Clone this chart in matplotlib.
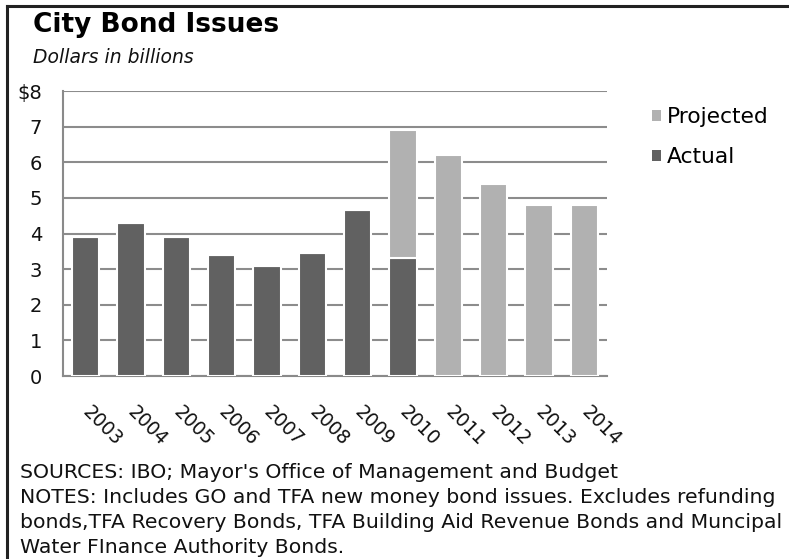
import matplotlib
matplotlib.use("Agg")
import matplotlib.pyplot as plt
from matplotlib.patches import Patch
from matplotlib.lines import Line2D
import numpy as np

years = ["2003", "2004", "2005", "2006", "2007", "2008", "2009", "2010", "2011", "2012", "2013", "2014"]
actual = [3.9, 4.3, 3.9, 3.4, 3.1, 3.45, 4.65, 3.3, 0, 0, 0, 0]
projected = [0, 0, 0, 0, 0, 0, 0, 3.6, 6.2, 5.4, 4.8, 4.8]
yticks = [0, 1, 2, 3, 4, 5, 6, 7, 8]
ytick_labels = ["0", "1", "2", "3", "4", "5", "6", "7", "$8"]

title = "City Bond Issues"
subtitle = "Dollars in billions"
notes = ["SOURCES: IBO; Mayor's Office of Management and Budget",
         "NOTES: Includes GO and TFA new money bond issues. Excludes refunding",
         "bonds,TFA Recovery Bonds, TFA Building Aid Revenue Bonds and Muncipal",
         "Water FInance Authority Bonds."]

W, H = 789, 559
plt.rcParams['font.family'] = ['DejaVu Sans']
fig = plt.figure(figsize=(W / 100, H / 100), dpi=100)
fig.patch.set_facecolor("white")

def fx(px):
    return px / W

def fy(py):
    return 1 - py / H

ax = fig.add_axes([fx(63), fy(376), fx(607) - fx(63), fy(91) - fy(376)])

dark = "#616161"
light = "#b1b1b1"
x = np.arange(len(years))
ax.bar(x, actual, width=0.6, color=dark, edgecolor="white", linewidth=1.5, zorder=3)
ax.bar(x, projected, width=0.6, bottom=actual, color=light, edgecolor="white", linewidth=1.5, zorder=3)

ax.set_xlim(-0.5, len(years) - 0.5)
ax.set_ylim(0, 8)
ax.set_yticks(yticks)
ax.set_yticklabels(ytick_labels, fontsize=14, color="#111111")
ax.tick_params(axis="y", length=0, pad=15)
for lab in ax.get_yticklabels():
    lab.set_horizontalalignment("right")

ax.set_xticks(x)
ax.set_xticklabels(years, fontsize=13.5, color="#111111", rotation=-45,
                   ha="left", va="center", rotation_mode="anchor")
ax.tick_params(axis="x", length=0, pad=24)

ax.yaxis.grid(True, color="#8c8c8c", linewidth=1.5, zorder=0)
ax.set_axisbelow(True)
for side in ["right", "top"]:
    ax.spines[side].set_visible(False)
for side in ["left", "bottom"]:
    ax.spines[side].set_color("#8a8a8a")
    ax.spines[side].set_linewidth(1.5)

handles = [Patch(facecolor=light, edgecolor="none", label="Projected"),
           Patch(facecolor=dark, edgecolor="none", label="Actual")]
ax.legend(handles=handles, loc="upper left", bbox_to_anchor=(fx(652), fy(107)),
          bbox_transform=fig.transFigure, frameon=False, fontsize=15.7,
          handlelength=0.4, handleheight=0.4, handletextpad=0.3, labelspacing=0.92,
          borderaxespad=0, borderpad=0)

fig.text(fx(33), fy(32), title, fontsize=19, fontweight="bold", ha="left", va="baseline", color="black")
fig.text(fx(33), fy(63), subtitle, fontsize=13.5, fontstyle="italic", ha="left", va="baseline", color="#111111")

for i, line in enumerate(notes):
    fig.text(fx(20), fy(478 + 25 * i), line, fontsize=14.7, ha="left", va="baseline", color="#111111")

fig.add_artist(Line2D([fx(7), 1], [fy(6), fy(6)], color="#222222", linewidth=2.2, transform=fig.transFigure))
fig.add_artist(Line2D([fx(7), fx(7)], [fy(6), 0], color="#222222", linewidth=2.2, transform=fig.transFigure))

fig.savefig("out.png", dpi=100)
